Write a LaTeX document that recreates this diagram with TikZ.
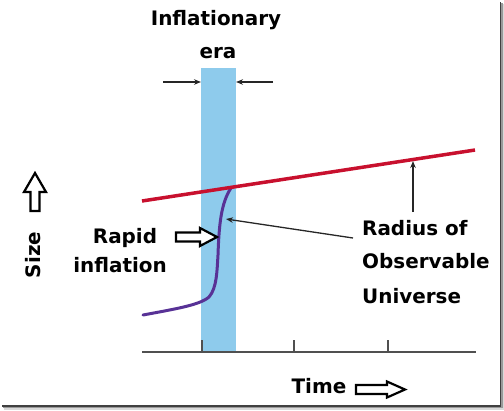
\documentclass[tikz,border=0pt]{standalone}
\usepackage{fontspec}
\setmainfont{DejaVu Sans}
\usetikzlibrary{arrows.meta}
\definecolor{barblue}{RGB}{142,203,236}
\definecolor{radred}{RGB}{200,16,46}
\definecolor{curvepurple}{RGB}{88,50,150}
\definecolor{axisgray}{RGB}{80,80,80}
\begin{document}
\begin{tikzpicture}[x=1bp,y=-1bp,
  lbl/.style={font=\bfseries\fontsize{20}{24}\selectfont, inner sep=0pt},
  thinarrow/.style={draw=black!85, line width=1.3bp, -{Stealth[length=7bp,width=5.5bp]}},
  hollow/.style={draw=black, line width=2.2bp, fill=white, line join=miter}]
\useasboundingbox (0,0) rectangle (504,410);
% frame shadow
\fill[black!75] (499.5,2) rectangle (501,406.5);
\fill[black!40] (501,3) rectangle (502.5,408);
\fill[black!15] (502.5,4) rectangle (504,409.5);
\fill[black!75] (2,405) rectangle (501,406.5);
\fill[black!40] (3,406.5) rectangle (502.5,408);
\fill[black!15] (4,408) rectangle (504,409.5);
% inflationary era bar
\node[fill=barblue, minimum width=35bp, minimum height=285bp, inner sep=0pt, outer sep=0pt, anchor=north west] (bar) at (201,68) {};
% axis
\coordinate (ax0) at (142,352);
\coordinate (ax1) at (476,352);
\coordinate (t1) at (202,352); \coordinate (t1e) at (202,340);
\coordinate (t2) at (294,352); \coordinate (t2e) at (294,340);
\coordinate (t3) at (388,352); \coordinate (t3e) at (388,340);
\draw[axisgray, line width=2bp] (ax0) -- (ax1);
\draw[axisgray, line width=1.8bp] (t1) -- (t1e) (t2) -- (t2e) (t3) -- (t3e);
% size curve
\coordinate (c0) at (143,315);
\coordinate (c1) at (231,188);
\draw[curvepurple, line width=3bp, line cap=round]
  (c0) .. controls (175,309) and (200,305) .. (209,297)
       .. controls (217,288) and (217,270) .. (218,255)
       .. controls (219,225) and (221,203) .. (c1);
% radius of observable universe
\coordinate (r0) at (142,201);
\coordinate (r1) at (475,150);
\draw[radred, line width=3.5bp] (r0) -- (r1);
% labels
\node[lbl, anchor=base] (title) at (216,25) {Inflationary};
\node[lbl, anchor=base] (era) at (218,58) {era};
\node[lbl, anchor=base] (rapid) at (125,243) {Rapid};
\node[lbl, anchor=base] (infl) at (120,272) {inflation};
\node[lbl, anchor=base west] (rad1) at (362,235) {Radius of};
\node[lbl, anchor=base west] (rad2) at (362,268) {Observable};
\node[lbl, anchor=base west] (rad3) at (362,303) {Universe};
\node[lbl, anchor=base] (time) at (319,393) {Time};
\node[lbl, rotate=90] (size) at (33,255) {Size};
% era arrows
\coordinate (ea0) at (163,82); \coordinate (ea1) at (273,82);
\draw[thinarrow] (ea0) -- (bar.west |- ea0);
\draw[thinarrow] (ea1) -- (bar.east |- ea1);
% pointer arrows
\coordinate (p0) at (353,238); \coordinate (p1) at (226,219);
\draw[thinarrow] (p0) -- (p1);
\coordinate (q0) at (413,212); \coordinate (q1) at (413,161);
\draw[thinarrow] (q0) -- (q1);
% hollow arrows
\draw[hollow] (35,173) -- (46,192) -- (39.5,192) -- (39.5,211) -- (30.5,211) -- (30.5,192) -- (24,192) -- cycle;
\draw[hollow] (217,237) -- (200,228) -- (200,232.5) -- (176,232.5) -- (176,241.5) -- (200,241.5) -- (200,246) -- cycle;
\draw[hollow] (405,389.5) -- (387,381.5) -- (387,385) -- (356,385) -- (356,394) -- (387,394) -- (387,397.5) -- cycle;
\end{tikzpicture}
\end{document}
